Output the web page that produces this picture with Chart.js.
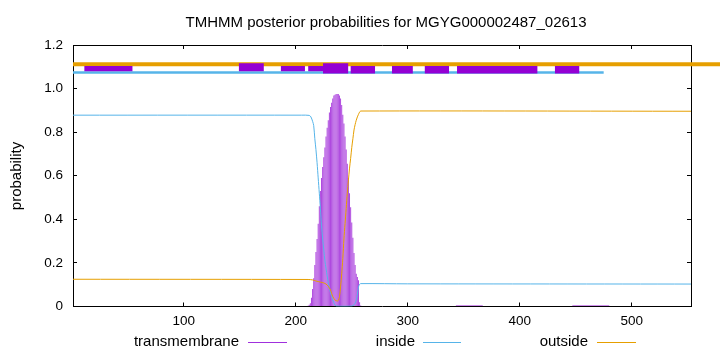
<!DOCTYPE html>
<html>
<head>
<meta charset="utf-8">
<script src="https://cdn.jsdelivr.net/npm/chart.js@4"></script>
<style>
  html, body { margin: 0; padding: 0; background: #fff; overflow: hidden; }
  #wrap { position: relative; width: 720px; height: 352px; font-family: "Liberation Sans", Arial, sans-serif; color: #000; }
  #wrap canvas { position: absolute; left: 0; top: 0; }
  .txt { position: absolute; font-size: 15px; white-space: nowrap; line-height: 18px; }
  .key { position: absolute; height: 1px; }
</style>
</head>
<body>
<div id="wrap">
  <canvas id="chartCanvas" width="720" height="352"></canvas>
  <div class="txt" style="left:0; width:772px; top:13px; text-align:center;">TMHMM posterior probabilities for MGYG000002487_02613</div>
  <div class="txt" style="left:-34px; top:167px; width:100px; text-align:center; transform:rotate(-90deg);">probability</div>
  <div class="txt" style="left:90px; width:149px; top:332px; text-align:right;">transmembrane</div>
  <div class="key" style="left:248px; width:39px; top:342px; background:#a030dd;"></div>
  <div class="txt" style="left:300px; width:115px; top:332px; text-align:right;">inside</div>
  <div class="key" style="left:423px; width:38px; top:342px; background:#56b4e9;"></div>
  <div class="txt" style="left:480px; width:108px; top:332px; text-align:right;">outside</div>
  <div class="key" style="left:597px; width:39px; top:342px; background:#e69f00;"></div>
</div>
<script>
// Daten
const xTicks = [100, 200, 300, 400, 500];
const yTicks = [0, 0.2, 0.4, 0.6, 0.8, 1, 1.2];

// transmembrane (per residue)
const tmResidue = [211, 212, 213, 214, 215, 216, 217, 218, 219, 220, 221, 222, 223, 224, 225, 226, 227, 228, 229, 230,
  231, 232, 233, 234, 235, 236, 237, 238, 239, 240, 241, 242, 243, 244, 245, 246, 247, 248, 249, 250,
  251, 252, 253, 254, 255, 256, 257, 258];
const tmProb = [0.003, 0.008, 0.015, 0.04, 0.08, 0.13, 0.19, 0.25, 0.31, 0.38, 0.46, 0.53, 0.59, 0.64, 0.685, 0.73, 0.78, 0.82, 0.855, 0.89,
  0.915, 0.935, 0.955, 0.968, 0.972, 0.975, 0.975, 0.975, 0.968, 0.955, 0.925, 0.88, 0.84, 0.78, 0.72, 0.655, 0.59, 0.52, 0.455, 0.385,
  0.315, 0.245, 0.19, 0.15, 0.135, 0.12, 0.02, 0.005];
// faint tm traces near zero
const tmTailX = [343, 367, null, 447, 480];
const tmTailY = [0.004, 0.004, null, 0.004, 0.004];

// inside
const insideX = [1, 205, 212, 213.5, 215, 216, 217, 218, 219, 220, 221, 222, 223, 224, 225, 226, 227, 228, 229, 230,
  231, 232, 233, 234, 235, 236, 250, 252, 253, 254, 255, 256, 257, 258, 300, 553];
const insideY = [0.878, 0.878, 0.877, 0.87, 0.85, 0.83, 0.77, 0.72, 0.66, 0.59, 0.52, 0.45, 0.37, 0.31, 0.26, 0.21, 0.175, 0.14, 0.11, 0.085,
  0.063, 0.045, 0.03, 0.017, 0.007, 0.002, 0.002, 0.008, 0.015, 0.03, 0.055, 0.09, 0.102, 0.105, 0.104, 0.103];

// outside
const outsideX = [1, 211, 215, 218, 222, 225, 227, 229, 231, 232, 233, 234, 235, 237, 238, 239, 240, 241, 242, 243,
  244, 245, 246, 247, 248, 249, 250, 251, 252, 253, 254, 255, 256, 257, 258, 553];
const outsideY = [0.125, 0.124, 0.122, 0.117, 0.112, 0.108, 0.103, 0.093, 0.076, 0.06, 0.046, 0.037, 0.03, 0.025, 0.028, 0.045, 0.09, 0.15, 0.22, 0.31,
  0.38, 0.45, 0.52, 0.58, 0.635, 0.68, 0.73, 0.77, 0.81, 0.835, 0.855, 0.87, 0.882, 0.892, 0.897, 0.896];

// topology bars at the top
const outsideBarX = [1, 600];
const outsideBarY = 1.112;
const insideBarX = [1, 475];
const insideBarY = 1.074;
const tmBoxStart = [11, 149, 186.5, 211, 224.3, 248.8, 285.8, 315, 344, 431.3];
const tmBoxEnd = [54.3, 171.5, 208.2, 224.3, 247, 270.9, 304.6, 337, 416, 453.4];
const tmBoxLow = [1.079, 1.079, 1.079, 1.079, 1.069, 1.069, 1.069, 1.069, 1.069, 1.069];
const tmBoxHigh = [1.104, 1.116, 1.104, 1.104, 1.116, 1.104, 1.104, 1.104, 1.104, 1.104];

const PURPLE = '#9400d3', BLUE = '#56b4e9', ORANGE = '#e69f00';

function pts(xs, ys) {
  return xs.map((x, i) => x === null ? { x: NaN, y: null } : { x: x, y: ys[i] });
}

let datasets = [];

// boxes (on top)
tmBoxStart.forEach((s, i) => {
  datasets.push({
    type: 'line',
    data: [{ x: s, y: tmBoxHigh[i] }, { x: tmBoxEnd[i], y: tmBoxHigh[i] }],
    borderColor: 'rgba(0,0,0,0)',
    borderWidth: 1,
    backgroundColor: PURPLE,
    fill: { value: tmBoxLow[i] },
    pointRadius: 0,
    order: 0
  });
});

datasets.push({
  type: 'line',
  data: outsideBarX.map(x => ({ x: x, y: outsideBarY })),
  borderColor: ORANGE, borderWidth: 4, pointRadius: 0, fill: false, clip: false, order: 2,
  borderCapStyle: 'butt'
});
datasets.push({
  type: 'line',
  data: insideBarX.map(x => ({ x: x, y: insideBarY })),
  borderColor: BLUE, borderWidth: 2.5, pointRadius: 0, fill: false, order: 3,
  borderCapStyle: 'butt'
});

// curves
datasets.push({
  type: 'line', data: pts(outsideX, outsideY),
  borderColor: ORANGE, borderWidth: 1, pointRadius: 0, fill: false, tension: 0.3, order: 4
});
datasets.push({
  type: 'line', data: pts(insideX, insideY),
  borderColor: BLUE, borderWidth: 1, pointRadius: 0, fill: false, tension: 0.3, order: 4
});
datasets.push({
  type: 'line', data: pts(tmTailX, tmTailY),
  borderColor: 'rgba(148,0,211,0.5)', borderWidth: 1, pointRadius: 0, fill: false, spanGaps: false, order: 5
});
datasets.push({
  type: 'bar', data: pts(tmResidue, tmProb),
  backgroundColor: 'rgba(155,30,215,0.85)', borderWidth: 0,
  barPercentage: 0.85, categoryPercentage: 1, order: 6
});

Chart.defaults.font.family = '"Liberation Sans", Arial, sans-serif';
Chart.defaults.font.size = 13.5;
Chart.defaults.color = '#000';

// gnuplot style: frame on all four sides, short tick marks pointing inward
const edge = { display: true, color: '#000', width: 1 };
const inwardTicks = { display: true, offset: false, drawOnChartArea: false, drawTicks: true, tickLength: -4, color: '#000', lineWidth: 1 };

new Chart(document.getElementById('chartCanvas'), {
  type: 'line',
  data: { datasets },
  options: {
    responsive: false,
    animation: false,
    layout: { padding: { top: 45, right: 29, left: 0, bottom: 0 } },
    plugins: { legend: { display: false }, tooltip: { enabled: false }, title: { display: false } },
    scales: {
      x: {
        type: 'linear', min: 1, max: 553, offset: false,
        afterBuildTicks: s => { s.ticks = xTicks.map(v => ({ value: v })); },
        afterFit: s => { s.height = 45.5; },
        ticks: { padding: 11, maxRotation: 0 },
        grid: inwardTicks,
        border: edge
      },
      xTop: {
        type: 'linear', position: 'top', min: 1, max: 553, offset: false,
        afterBuildTicks: s => { s.ticks = xTicks.map(v => ({ value: v })); },
        afterFit: s => { s.height = 0; },
        ticks: { display: false },
        grid: inwardTicks,
        border: edge
      },
      y: {
        type: 'linear', min: 0, max: 1.2,
        afterBuildTicks: s => { s.ticks = yTicks.map(v => ({ value: v })); },
        afterFit: s => { s.width = 73; },
        ticks: { padding: 14 },
        grid: inwardTicks,
        border: edge
      },
      yRight: {
        type: 'linear', position: 'right', min: 0, max: 1.2,
        afterBuildTicks: s => { s.ticks = yTicks.map(v => ({ value: v })); },
        afterFit: s => { s.width = 0; },
        ticks: { display: false },
        grid: inwardTicks,
        border: edge
      }
    }
  }
});
</script>
</body>
</html>
